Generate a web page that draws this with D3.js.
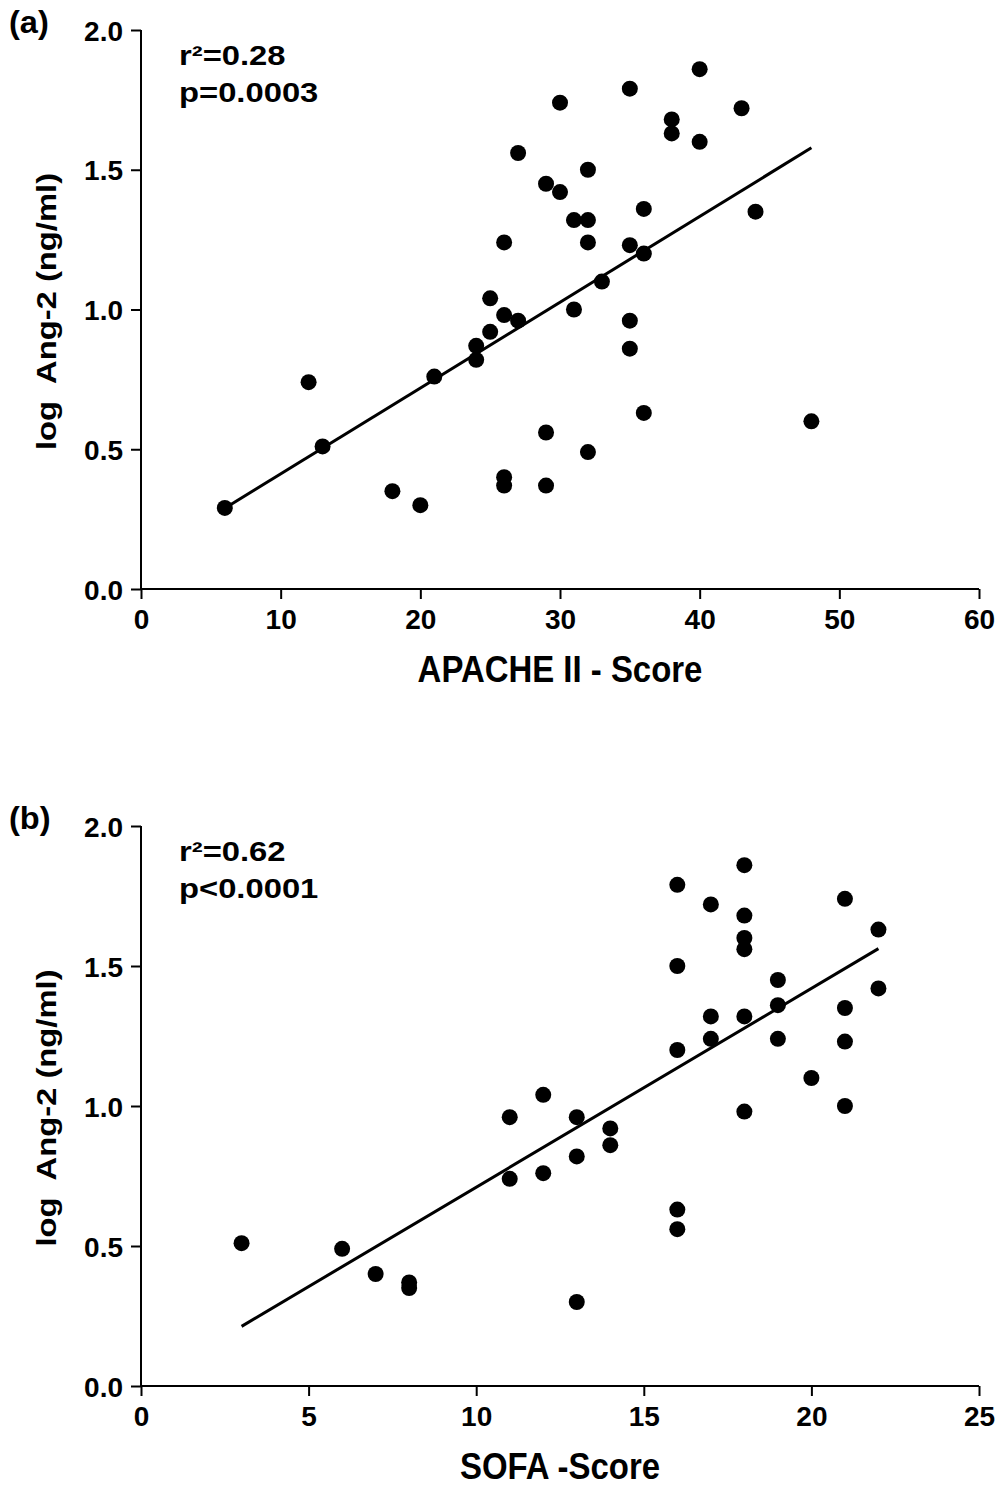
<!DOCTYPE html>
<html>
<head>
<meta charset="utf-8">
<script src="https://cdn.jsdelivr.net/npm/d3@7"></script>
<style>
  html, body { margin: 0; padding: 0; background: #fff; }
  svg { display: block; }
  text { font-family: "Liberation Sans", Arial, Helvetica, sans-serif; font-weight: bold; fill: #000; }
</style>
</head>
<body>
<svg id="chart" width="1004" height="1495"></svg>
<script>
// ---- Panel (a): APACHE II score vs log Ang-2 ----
const apacheScore = [6,12,13,18,20,21,24,24,25,25,26,26,26,26,27,27,29,29,29,30,30,31,31,32,32,32,32,33,35,35,35,35,36,36,36,38,38,40,40,43,44,48];
const apacheAng2  = [0.29,0.74,0.51,0.35,0.30,0.76,0.87,0.82,1.04,0.92,1.24,0.98,0.40,0.37,1.56,0.96,1.45,0.56,0.37,1.74,1.42,1.32,1.00,1.50,1.32,1.24,0.49,1.10,1.79,1.23,0.96,0.86,1.36,1.20,0.63,1.68,1.63,1.86,1.60,1.72,1.35,0.60];
const apacheFit = { slope: 0.0307, intercept: 0.105 };
const apacheStats = ["r²=0.28", "p=0.0003"];
const apacheXTicks = [0,10,20,30,40,50,60];

// ---- Panel (b): SOFA score vs log Ang-2 ----
const sofaScore = [3,6,7,8,8,11,11,12,12,13,13,13,14,14,16,16,16,16,16,17,17,17,18,18,18,18,18,18,19,19,19,20,21,21,21,21,22,22];
const sofaAng2  = [0.51,0.49,0.40,0.37,0.35,0.96,0.74,1.04,0.76,0.96,0.82,0.30,0.92,0.86,1.79,1.50,1.20,0.63,0.56,1.72,1.32,1.24,1.86,1.68,1.60,1.56,1.32,0.98,1.45,1.36,1.24,1.10,1.74,1.35,1.23,1.00,1.63,1.42];
const sofaFit = { slope: 0.0710, intercept: 0.0 };
const sofaStats = ["r²=0.62", "p<0.0001"];
const sofaXTicks = [0,5,10,15,20,25];

const yTicks = [0.0,0.5,1.0,1.5,2.0];
const yTitle = "log\u00A0 Ang-2 (ng/ml)";

const svg = d3.select("#chart");

function addText(g, x, y, str, size, sx, anchor, rotate) {
  const t = g.append("g").attr("transform",
      `translate(${x},${y})` + (rotate ? ` rotate(${rotate})` : "") + ` scale(${sx},1)`);
  t.append("text")
    .attr("x", 0).attr("y", 0)
    .attr("text-anchor", anchor || "start")
    .style("font-size", size + "px")
    .text(str);
  return t;
}

function panel(cfg) {
  const g = svg.append("g");
  const x = d3.scaleLinear().domain(cfg.xDomain).range([141, 979]);
  const y = d3.scaleLinear().domain([0, 2]).range([cfg.y0, cfg.y2]);

  // axes
  const xAxis = d3.axisBottom(x).tickValues(cfg.xTicks).tickSize(10).tickPadding(8)
      .tickFormat(d3.format("d"));
  const yAxis = d3.axisLeft(y).tickValues(yTicks).tickSize(10).tickPadding(8)
      .tickFormat(d3.format(".1f"));

  const gx = g.append("g").attr("transform", `translate(0,${cfg.y0})`).call(xAxis);
  const gy = g.append("g").attr("transform", `translate(141,0)`).call(yAxis);
  [gx, gy].forEach(a => {
    a.select(".domain").attr("stroke", "#000").attr("stroke-width", 2);
    a.selectAll(".tick line").attr("stroke", "#000").attr("stroke-width", 2);
    a.selectAll(".tick text")
      .style("font-family", '"Liberation Sans", Arial, sans-serif')
      .style("font-weight", "bold")
      .style("font-size", "28px")
      .attr("fill", "#000");
  });
  gx.select(".domain").attr("d", `M141,0H979`);
  gy.select(".domain").attr("d", `M0,${cfg.y0}V${cfg.y2}`);
  gx.selectAll(".tick text").attr("dy", "0.78em");
  gy.selectAll(".tick text").attr("dy", "0.36em");

  // regression line
  const xs = d3.extent(cfg.xData);
  const fit = xs.map(v => [v, cfg.fit.intercept + cfg.fit.slope * v]);
  g.append("path")
    .datum(fit)
    .attr("fill", "none")
    .attr("stroke", "#000")
    .attr("stroke-width", 3)
    .attr("d", d3.line().x(d => x(d[0])).y(d => y(d[1])));

  // points
  g.selectAll("circle.pt")
    .data(cfg.xData.map((v, i) => [v, cfg.yData[i]]))
    .join("circle")
    .attr("class", "pt")
    .attr("cx", d => x(d[0]))
    .attr("cy", d => y(d[1]))
    .attr("r", 8)
    .attr("fill", "#000");

  // stats text
  addText(g, 179, cfg.y2 + 35, cfg.stats[0], 28, 1.17, "start");
  addText(g, 179, cfg.y2 + 72, cfg.stats[1], 28, 1.17, "start");

  // panel label
  addText(g, 9, cfg.y2 + 3, cfg.label, 31, 1.05, "start");

  // axis titles
  addText(g, 560, cfg.y0 + 93, cfg.xTitle, 37, 0.89, "middle");
  addText(g, 56, (cfg.y0 + cfg.y2) / 2 + 2, yTitle, 28, 1.17, "middle", -90);
}

panel({
  xDomain: [0, 60], xTicks: apacheXTicks, y0: 589, y2: 30,
  xData: apacheScore, yData: apacheAng2, fit: apacheFit, stats: apacheStats,
  label: "(a)", xTitle: "APACHE II - Score"
});
panel({
  xDomain: [0, 25], xTicks: sofaXTicks, y0: 1386, y2: 826,
  xData: sofaScore, yData: sofaAng2, fit: sofaFit, stats: sofaStats,
  label: "(b)", xTitle: "SOFA -Score"
});
</script>
</body>
</html>
